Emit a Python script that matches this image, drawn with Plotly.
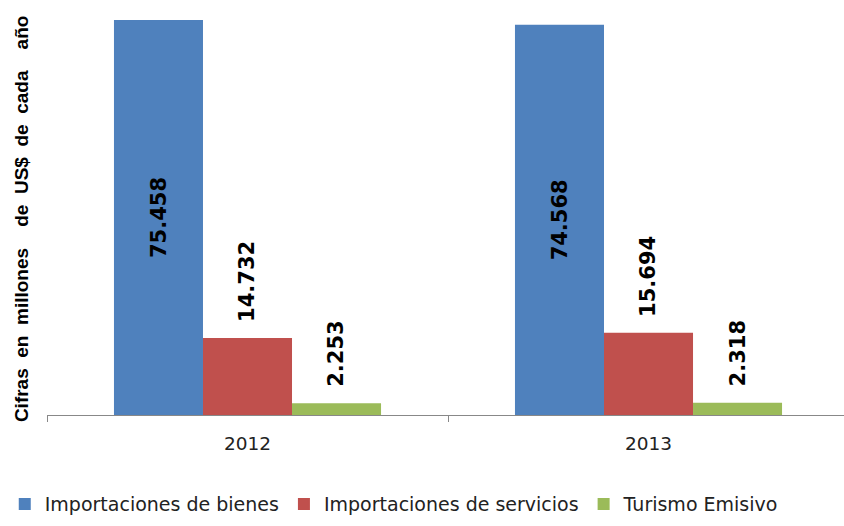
import plotly.graph_objects as go

categories = ["2012", "2013"]
series_names = ["Importaciones de bienes", "Importaciones de servicios", "Turismo Emisivo"]
bienes = [75458, 74568]
servicios = [14732, 15694]
turismo = [2253, 2318]
colors = ["#4F81BD", "#C0504D", "#9BBB59"]
y_title = "Cifras en millones  de US$ de cada  año"

all_series = [bienes, servicios, turismo]

fig = go.Figure()
for name, vals, col in zip(series_names, all_series, colors):
    fig.add_trace(go.Bar(x=categories, y=vals, name=name, marker_color=col,
                         marker_line_width=0))

bargap = 0.334
bw = (1 - bargap) / 3

def fmt(v):
    return f"{v:,}".replace(",", ".")

label_font = dict(family="DejaVu Sans", size=21, color="black")
annotations = []
for si, vals in enumerate(all_series):
    off = (si - 1) * bw
    for ci, v in enumerate(vals):
        if si == 0:
            annotations.append(dict(x=ci + off, y=v / 2, xref="x", yref="y",
                                    text="<b>" + fmt(v) + "</b>",
                                    textangle=-90, showarrow=False, xanchor="center", yanchor="middle",
                                    font=label_font))
        else:
            annotations.append(dict(x=ci + off, y=v, xref="x", yref="y",
                                    text="<b>" + fmt(v) + "</b>",
                                    textangle=-90, showarrow=False, xanchor="center", yanchor="bottom",
                                    yshift=14, font=label_font))

annotations.append(dict(text="<b>" + y_title.replace(" ", "\u00a0\u00a0") + "</b>",
                        xref="paper", yref="paper",
                        x=0, y=0.472, xshift=-26, textangle=-90, showarrow=False,
                        xanchor="center", yanchor="middle",
                        font=dict(family="Liberation Sans", size=19, color="black")))

fig.update_layout(
    width=844, height=526,
    margin=dict(l=47, r=0, t=0, b=111),
    paper_bgcolor="white", plot_bgcolor="white",
    barmode="group", bargap=bargap, bargroupgap=0,
    showlegend=True,
    legend=dict(orientation="h", x=-0.053, xanchor="left", y=-0.215, yanchor="middle",
                font=dict(family="DejaVu Sans", size=19, color="#222222"),
                traceorder="normal"),
    annotations=annotations,
    xaxis=dict(type="category", range=[-0.5, 1.4875], showline=True, linecolor="#888888", linewidth=1,
               ticks="outside", tickson="boundaries", ticklen=6, tickcolor="#888888",
               tickfont=dict(family="DejaVu Sans", size=18.5, color="#222222"),
               ticklabelstandoff=12,
               showgrid=False, zeroline=False),
    yaxis=dict(range=[0, 79300], showticklabels=False, showgrid=False, zeroline=False,
               showline=False, ticks=""),
)

fig.write_html("out.html", config={"displayModeBar": False},
               post_script="document.body.style.margin='0';document.body.style.padding='0';"
                           "document.body.style.overflow='hidden';"
                           "document.documentElement.style.overflow='hidden';")
